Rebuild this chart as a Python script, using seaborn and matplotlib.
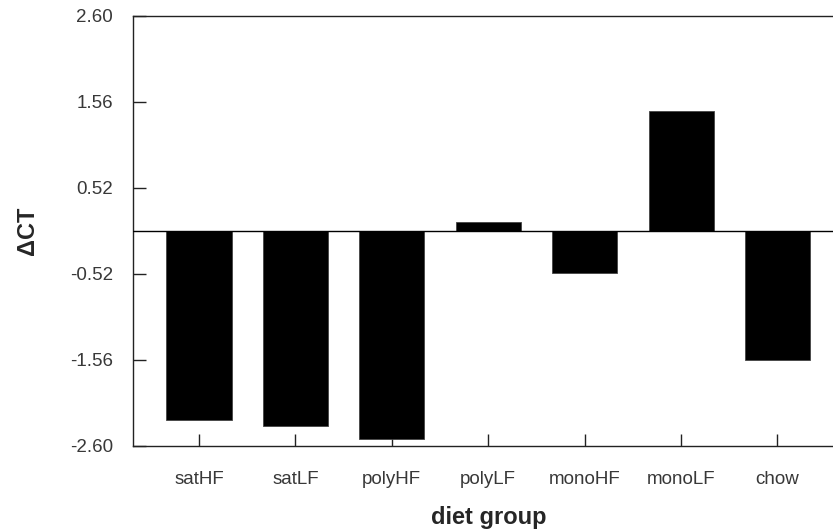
import matplotlib
matplotlib.use("Agg")
import matplotlib.pyplot as plt
import seaborn as sns
import pandas as pd

categories = ["satHF", "satLF", "polyHF", "polyLF", "monoHF", "monoLF", "chow"]
delta_ct = [-2.28, -2.36, -2.51, 0.11, -0.51, 1.45, -1.56]
y_ticks = [-2.60, -1.56, -0.52, 0.52, 1.56, 2.60]

df = pd.DataFrame({"diet group": categories, "dct": delta_ct})

sns.set_style("white")
plt.rcParams["font.family"] = ["Liberation Sans", "DejaVu Sans"]

fig = plt.figure(figsize=(8.33, 5.31), dpi=100)
ax = fig.add_axes([132.5 / 833, 85 / 531, 711.5 / 833, 430 / 531])

sns.barplot(data=df, x="diet group", y="dct", order=categories, color="black",
            width=0.675, saturation=1, ax=ax, edgecolor="#444444", linewidth=0.6)

ax.axhline(0, color="black", lw=1.0, zorder=5)
ax.set_xlim(-0.69, 6.69)
ax.set_ylim(-2.60, 2.60)
ax.set_yticks(y_ticks)
ax.set_yticklabels([f"{v:.2f}" for v in y_ticks])

for s in ax.spines.values():
    s.set_color("#222222")
    s.set_linewidth(1.0)

ax.tick_params(axis="both", direction="in", length=9, width=1.0, color="#222222",
               labelsize=13.5, labelcolor="#383838", bottom=True, left=True)
ax.tick_params(axis="y", pad=14)
ax.tick_params(axis="x", pad=18)

ax.set_xlabel("diet group", fontsize=17, fontweight="bold", labelpad=13)
ax.set_ylabel("ΔCT", fontsize=17, fontweight="bold", labelpad=22)

fig.savefig("out.png", dpi=100)
